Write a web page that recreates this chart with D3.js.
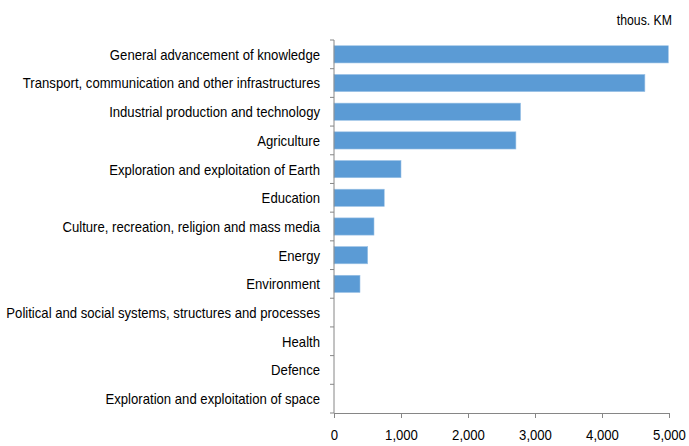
<!DOCTYPE html>
<html>
<head>
<meta charset="utf-8">
<script src="https://cdn.jsdelivr.net/npm/d3@7"></script>
<style>
body { margin: 0; background: #fff; }
svg { display: block; }
text { font-family: "Liberation Sans", Arial, sans-serif; fill: #000; }
</style>
</head>
<body>
<svg id="chart" width="689" height="446"></svg>
<script>
const categories = [
  "General advancement of knowledge",
  "Transport, communication and other infrastructures",
  "Industrial production and technology",
  "Agriculture",
  "Exploration and exploitation of Earth",
  "Education",
  "Culture, recreation, religion and mass media",
  "Energy",
  "Environment",
  "Political and social systems, structures and processes",
  "Health",
  "Defence",
  "Exploration and exploitation of space"
];
const values = [4990, 4640, 2785, 2715, 1000, 750, 597, 503, 388, 0, 0, 0, 0];
const xTicks = [0, 1000, 2000, 3000, 4000, 5000];
const unitLabel = "thous. KM";

const svg = d3.select("#chart");
const narrow = 0.875;
function condense(sel) {
  sel.each(function() {
    const w = this.getComputedTextLength();
    d3.select(this).attr("textLength", w * narrow).attr("lengthAdjust", "spacingAndGlyphs");
  });
}

const x = d3.scaleLinear().domain([0, 5000]).range([334, 669]);
const y = d3.scaleBand().domain(categories).range([40, 413]).paddingInner(0.4).paddingOuter(0.2);

const axisColor = "#868686";

svg.selectAll("rect.bar").data(categories).join("rect")
  .attr("class", "bar")
  .attr("x", x(0))
  .attr("y", d => y(d))
  .attr("width", (d, i) => x(values[i]) - x(0))
  .attr("height", y.bandwidth())
  .attr("fill", "#5b9bd5")
  .attr("stroke", "#9dc3e6")
  .attr("stroke-width", 0.6);

// y axis
const yAxisG = svg.append("g").attr("transform", `translate(${x(0)},0)`);
yAxisG.append("line").attr("x1", 0).attr("x2", 0).attr("y1", 40).attr("y2", 413)
  .attr("stroke", axisColor).attr("stroke-width", 1);
const step = (413 - 40) / categories.length;
d3.range(categories.length + 1).forEach(i => {
  yAxisG.append("line").attr("x1", -4).attr("x2", 0)
    .attr("y1", 40 + i * step).attr("y2", 40 + i * step)
    .attr("stroke", axisColor);
});
yAxisG.selectAll("text.cat").data(categories).join("text")
  .attr("class", "cat")
  .attr("x", -14)
  .attr("y", d => y(d) + y.bandwidth() / 2)
  .attr("dy", "0.36em")
  .attr("text-anchor", "end")
  .attr("font-size", 15)
  .text(d => d)
  .call(condense);

// x axis
const xAxis = d3.axisBottom(x).tickValues(xTicks).tickSize(5).tickSizeOuter(0)
  .tickFormat(d3.format(","));
const xg = svg.append("g").attr("transform", "translate(0,413)").call(xAxis);
xg.select(".domain").attr("stroke", axisColor);
xg.selectAll(".tick line").attr("stroke", axisColor);
xg.selectAll(".tick text").attr("font-size", 15).attr("dy", "1.25em")
  .style("font-family", '"Liberation Sans", Arial, sans-serif').attr("fill", "#000")
  .call(condense);

svg.append("text").attr("x", 672).attr("y", 25).attr("text-anchor", "end")
  .attr("font-size", 14).text(unitLabel).call(condense);
</script>
</body>
</html>
